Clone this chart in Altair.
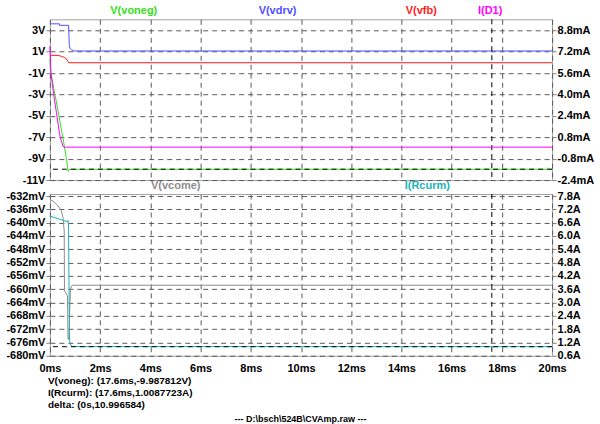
import altair as alt
import pandas as pd

# ---- traces, time in ms ----
t_voneg = [0, 0.02, 0.06, 0.15, 0.25, 0.35, 0.45, 0.55, 0.65, 0.70, 0.73, 0.76, 0.80, 1.0, 20]
v_voneg = [0.3, -0.5, -1.2, -2.4, -3.6, -4.9, -6.2, -7.5, -8.9, -9.7, -10.2, -10.05, -10.0, -9.99, -9.987812]

t_vdrv = [0, 0.378, 0.378, 0.744, 0.77, 0.795, 0.855, 0.954, 20]
v_vdrv = [3.61, 3.61, 3.47, 3.47, 1.69, 1.32, 1.20, 1.07, 1.07]

t_vfb = [0, 0.33, 0.45, 0.57, 0.66, 0.72, 0.75, 20]
v_vfb = [0.67, 0.65, 0.58, 0.48, 0.33, 0.08, -0.03, -0.03]

t_id1 = [0, 0.0, 0.02, 0.04, 0.16, 0.28, 0.40, 0.52, 0.58, 20]
i_id1 = [7.61, 7.61, 6.63, 5.59, 3.87, 2.38, 0.89, 0.14, 0.06, 0.06]   # mA

t_vcome = [0, 0.16, 0.33, 0.46, 0.52, 0.57, 0.58, 0.70, 0.72, 0.76, 0.80, 0.82, 0.86, 0.92, 20]
v_vcome = [-633.0, -633.7, -635.0, -636.5, -638.5, -642.5, -660.5, -662.0, -675.0, -675.0, -663.5, -660.0, -659.0, -658.8, -658.8]  # mV

t_rcurm = [0, 0.2, 0.4, 0.6, 0.70, 0.72, 0.74, 0.76, 0.78, 0.82, 0.90, 20]
i_rcurm = [6.9, 6.82, 6.75, 6.68, 6.64, 6.70, 6.55, 4.0, 1.3, 1.08, 1.015, 1.0087723]  # A

# ---- cursor readout ----
cursor_t = 17.6
cursor_voneg = -9.987812
cursor_rcurm = 1.0087723
delta = cursor_rcurm - cursor_voneg

# ---- axis tick values ----
top_left_ticks = [3, 1, -1, -3, -5, -7, -9, -11]
top_right_ticks = [8.8, 7.2, 5.6, 4.0, 2.4, 0.8, -0.8, -2.4]
bot_left_ticks = [-632, -636, -640, -644, -648, -652, -656, -660, -664, -668, -672, -676, -680]
bot_right_ticks = [7.8, 7.2, 6.6, 6.0, 5.4, 4.8, 4.2, 3.6, 3.0, 2.4, 1.8, 1.2, 0.6]
time_ticks = list(range(0, 21, 2))

FONT = "Liberation Sans"
W = 503
H_TOP = 161
H_BOT = 162
DASH = [5, 4]
GRID = "#5a5a5a"

C_VONEG = "#33e01a"
C_VDRV = "#5050ff"
C_VFB = "#ff1a1a"
C_ID1 = "#ff00ff"
C_VCOME = "#8c8c8c"
C_RCURM = "#1ab3b8"

x_scale = alt.Scale(domain=[0, 20], nice=False, zero=False)


def fmt(unit, spec):
    return f"replace(format(datum.value, '{spec}'), '\u2212', '-') + '{unit}'"


def yaxis(values, unit, spec, orient, grid):
    return alt.Axis(
        values=values, orient=orient, title=None, grid=grid, gridDash=DASH,
        gridColor=GRID, gridOpacity=1, domain=False, ticks=True, tickSize=4,
        tickColor="#808080", labelPadding=1, labelFont=FONT, labelFontSize=11,
        labelFontWeight="bold", labelColor="#000000", labelOverlap=False,
        labelExpr=fmt(unit, spec), labelBound=False,
    )


def xaxis(labels):
    return alt.Axis(
        values=time_ticks, title=None, grid=True, gridDash=DASH, gridColor=GRID,
        gridOpacity=1, domain=False, ticks=False, labels=labels, labelFlush=False,
        labelPadding=7, labelFont=FONT, labelFontSize=11, labelFontWeight="bold",
        labelColor="#000000", labelOverlap=False, labelExpr=fmt("ms", "d"),
    )


def trace(t, v, color, yscale, axis, xax):
    df = pd.DataFrame({"t": t, "v": v})
    return alt.Chart(df).mark_line(color=color, strokeWidth=1, interpolate="linear").encode(
        x=alt.X("t:Q", scale=x_scale, axis=xax),
        y=alt.Y("v:Q", scale=yscale, axis=axis),
        order="index:Q",
    ).transform_window(index="row_number()")


def label(text, x, y, color, size=11, align="center", weight="bold"):
    return alt.Chart(alt.Data(values=[{}])).mark_text(
        text=text, color=color, font=FONT, fontSize=size, fontWeight=weight,
        align=align, baseline="middle",
    ).encode(x=alt.value(x), y=alt.value(y))


def hcursor(value, yscale, axis):
    return alt.Chart(alt.Data(values=[{"v": value}])).mark_rule(
        color="#000000", strokeDash=DASH, strokeWidth=1
    ).encode(y=alt.Y("v:Q", scale=yscale, axis=axis))


def vcursor(xax):
    return alt.Chart(alt.Data(values=[{"t": cursor_t}])).mark_rule(
        color="#000000", strokeDash=DASH, strokeWidth=1
    ).encode(x=alt.X("t:Q", scale=x_scale, axis=xax))


# ---- top panel: voltages (left) and I(D1) (right) ----
s_tl = alt.Scale(domain=[-11, 4.03], nice=False, zero=False)
s_tr = alt.Scale(domain=[-2.4, 9.62], nice=False, zero=False)
a_tl = yaxis(top_left_ticks, "V", "d", "left", True)
a_tr = yaxis(top_right_ticks, "mA", ".1f", "right", False)
xa_top = xaxis(False)

top_left = alt.layer(
    trace(t_vdrv, v_vdrv, C_VDRV, s_tl, a_tl, xa_top),
    trace(t_vfb, v_vfb, C_VFB, s_tl, a_tl, xa_top),
    trace(t_voneg, v_voneg, C_VONEG, s_tl, a_tl, xa_top),
    hcursor(cursor_voneg, s_tl, a_tl),
    vcursor(xa_top),
)
top_right = alt.layer(
    trace(t_id1, i_id1, C_ID1, s_tr, a_tr, xa_top),
)
top = alt.layer(
    top_left, top_right,
    label("V(voneg)", 84, -8, C_VONEG),
    label("V(vdrv)", 228, -8, C_VDRV),
    label("V(vfb)", 372, -8, C_VFB),
    label("I(D1)", 441, -8, C_ID1),
).resolve_scale(y="independent").properties(width=W, height=H_TOP)

# ---- bottom panel: V(vcome) (left) and I(Rcurm) (right) ----
s_bl = alt.Scale(domain=[-680, -631.4], nice=False, zero=False)
s_br = alt.Scale(domain=[0.6, 7.89], nice=False, zero=False)
a_bl = yaxis(bot_left_ticks, "mV", "d", "left", True)
a_br = yaxis(bot_right_ticks, "A", ".1f", "right", False)
xa_bot = xaxis(True)

readout = [
    f"V(voneg): ({cursor_t}ms,{cursor_voneg}V)",
    f"I(Rcurm): ({cursor_t}ms,{cursor_rcurm}A)",
    f"delta: (0s,{delta:.6f})",
]

bot_left = alt.layer(
    trace(t_vcome, v_vcome, C_VCOME, s_bl, a_bl, xa_bot),
    vcursor(xa_bot),
)
bot_right = alt.layer(
    trace(t_rcurm, i_rcurm, C_RCURM, s_br, a_br, xa_bot),
    hcursor(cursor_rcurm, s_br, a_br),
)
bottom = alt.layer(
    bot_left, bot_right,
    label("V(vcome)", 126, -8, C_VCOME),
    label("I(Rcurm)", 378, -8, C_RCURM),
    label(readout[0], -2, 187, "#000000", 10, "left"),
    label(readout[1], -2, 199, "#000000", 10, "left"),
    label(readout[2], -2, 211, "#000000", 10, "left"),
    label("---  D:\\bsch\\524B\\CVAmp.raw  ---", 251, 225, "#000000", 9, "center"),
).resolve_scale(y="independent").properties(width=W, height=H_BOT)

chart = alt.vconcat(top, bottom, spacing=14, bounds="flush").properties(
    padding={"left": 5, "top": 4, "right": 5, "bottom": 2},
    background="#ffffff",
).configure_view(stroke="#a0a0a0", strokeWidth=1)

chart.save("out.html", embed_options={"renderer": "svg", "actions": False})
